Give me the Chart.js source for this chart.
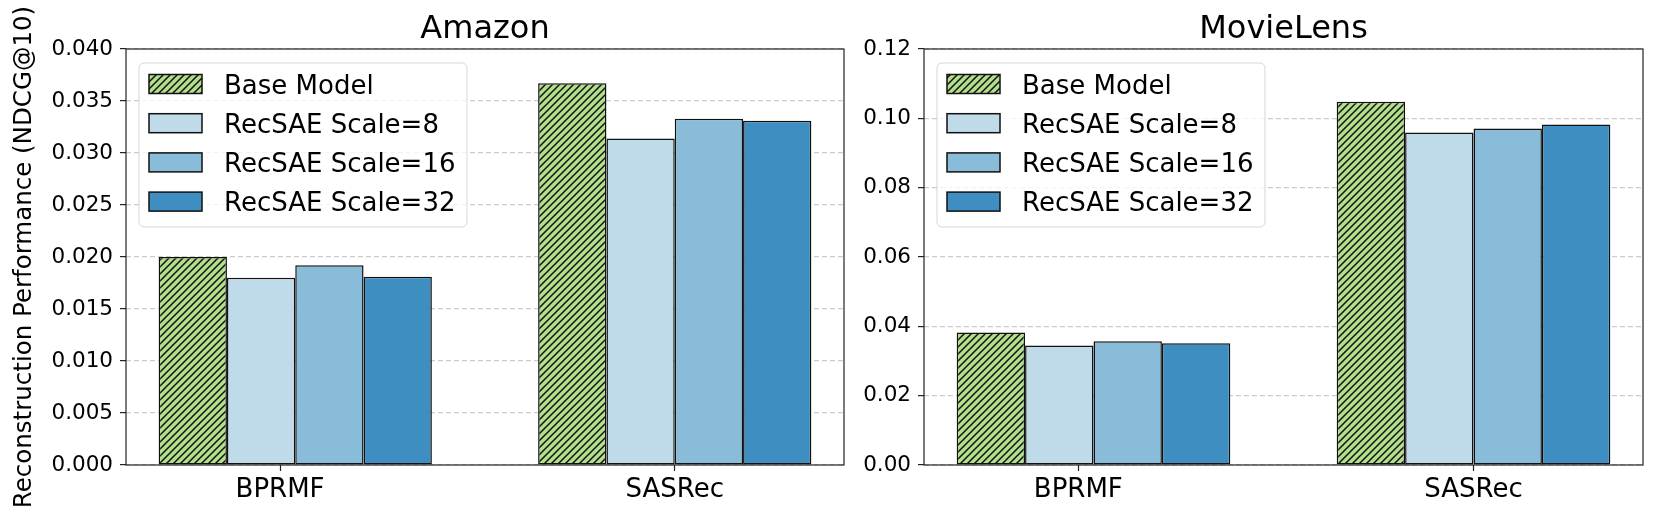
<!DOCTYPE html>
<html>
<head>
<meta charset="utf-8">
<script src="https://cdn.jsdelivr.net/npm/chart.js@4"></script>
<style>
  html, body { margin: 0; padding: 0; background: #fff; }
  #wrap { position: relative; width: 1661px; height: 517px; overflow: hidden; }
  canvas { position: absolute; top: 0; }
  #amazonChart { left: 0; }
  #movieChart { left: 850px; }
</style>
</head>
<body>
<div id="wrap">
  <canvas id="amazonChart" width="850" height="517"></canvas>
  <canvas id="movieChart" width="811" height="517"></canvas>
</div>
<script>
const groups = ['BPRMF', 'SASRec'];
// where the group labels sit on the x axis (BPRMF label is slightly left of its bars)
const groupTickPos = [-0.04, 1.0];
const seriesLabels = ['Base Model', 'RecSAE Scale=8', 'RecSAE Scale=16', 'RecSAE Scale=32'];

const amazonBase = [0.0200, 0.0367];
const amazonScale8 = [0.0180, 0.0314];
const amazonScale16 = [0.0192, 0.0333];
const amazonScale32 = [0.0181, 0.0331];

const movieBase = [0.0382, 0.1048];
const movieScale8 = [0.0345, 0.0959];
const movieScale16 = [0.0357, 0.0971];
const movieScale32 = [0.0351, 0.0982];

const amazonTicks = [0, 0.005, 0.010, 0.015, 0.020, 0.025, 0.030, 0.035, 0.040];
const movieTicks = [0, 0.02, 0.04, 0.06, 0.08, 0.10, 0.12];

const seriesColors = ['#b2df8a', '#bfdbea', '#89bcd9', '#3f8ec1'];

Chart.defaults.font.family = "'DejaVu Sans', sans-serif";
Chart.defaults.color = '#000';

// diagonal '///' hatch on a green fill
function hatchPattern(bg) {
  const s = 7;
  const c = document.createElement('canvas');
  c.width = s; c.height = s;
  const g = c.getContext('2d');
  g.fillStyle = bg;
  g.fillRect(0, 0, s, s);
  g.strokeStyle = '#111';
  g.lineWidth = 1.5;
  g.beginPath();
  g.moveTo(0, s); g.lineTo(s, 0);
  g.moveTo(-1, 1); g.lineTo(1, -1);
  g.moveTo(s - 1, s + 1); g.lineTo(s + 1, s - 1);
  g.stroke();
  return g.createPattern(c, 'repeat');
}

const framePlugin = {
  id: 'frame',
  afterDraw(chart) {
    const { ctx, chartArea: a } = chart;
    ctx.save();
    ctx.strokeStyle = '#222';
    ctx.lineWidth = 1.2;
    ctx.strokeRect(a.left, a.top, a.right - a.left, a.bottom - a.top);
    ctx.restore();
  }
};

// matplotlib-style legend box in the upper left of the plot
const legendBox = {
  id: 'legendBox',
  afterDraw(chart) {
    const { ctx, chartArea: a } = chart;
    const x0 = a.left + 13, y0 = a.top + 14, w = 328, h = 164, r = 5;
    ctx.save();
    ctx.beginPath();
    ctx.moveTo(x0 + r, y0);
    ctx.arcTo(x0 + w, y0, x0 + w, y0 + h, r);
    ctx.arcTo(x0 + w, y0 + h, x0, y0 + h, r);
    ctx.arcTo(x0, y0 + h, x0, y0, r);
    ctx.arcTo(x0, y0, x0 + w, y0, r);
    ctx.closePath();
    ctx.fillStyle = 'rgba(255,255,255,0.8)';
    ctx.fill();
    ctx.strokeStyle = 'rgba(204,204,204,0.8)';
    ctx.lineWidth = 1;
    ctx.stroke();

    ctx.font = "26px 'DejaVu Sans'";
    ctx.textBaseline = 'alphabetic';
    chart.data.datasets.forEach((ds, i) => {
      const cy = y0 + 21 + i * 39.2;
      ctx.fillStyle = ds.backgroundColor;
      ctx.fillRect(x0 + 10, cy - 9.5, 53, 19);
      ctx.strokeStyle = '#111';
      ctx.lineWidth = 1.5;
      ctx.strokeRect(x0 + 10, cy - 9.5, 53, 19);
      ctx.fillStyle = '#000';
      ctx.fillText(ds.label, x0 + 85, cy + 9.5);
    });
    ctx.restore();
  }
};

function makeChart(id, title, series, ticks, decimals, yTitle, yWidth, padRight) {
  const datasets = series.map((vals, i) => ({
    label: seriesLabels[i],
    data: vals.map((v, j) => ({ x: j, y: v })),
    backgroundColor: i === 0 ? hatchPattern(seriesColors[0]) : seriesColors[i],
    borderColor: '#111',
    borderWidth: 1.5,
    borderSkipped: false
  }));

  return new Chart(document.getElementById(id), {
    type: 'bar',
    data: { datasets },
    plugins: [framePlugin, legendBox],
    options: {
      responsive: false,
      animation: false,
      events: [],
      categoryPercentage: 0.72,
      barPercentage: 1.0,
      layout: { padding: { left: 0, right: padRight, top: 0, bottom: 0 } },
      plugins: {
        legend: { display: false },
        tooltip: { enabled: false },
        title: {
          display: true,
          text: title,
          color: '#000',
          fullSize: false,
          font: { size: 32, weight: 'normal' },
          padding: { top: 10, bottom: 0.6 }
        }
      },
      scales: {
        x: {
          type: 'linear',
          min: -0.446,
          max: 1.446,
          offset: false,
          afterBuildTicks: s => { s.ticks = groupTickPos.map(v => ({ value: v })); },
          afterFit: s => { s.height = 52; },
          ticks: {
            callback: (v, i) => groups[i],
            font: { size: 26 },
            padding: 4,
            maxRotation: 0,
            autoSkip: false
          },
          grid: { offset: false, drawOnChartArea: false, tickLength: 6, tickColor: '#222', tickWidth: 1.2 },
          border: { display: false }
        },
        y: {
          min: ticks[0],
          max: ticks[ticks.length - 1],
          z: 1,
          afterBuildTicks: s => { s.ticks = ticks.map(v => ({ value: v })); },
          afterFit: s => { s.width = yWidth; },
          ticks: {
            callback: v => v.toFixed(decimals),
            font: { size: 21.5 },
            padding: 7
          },
          grid: {
            color: 'rgba(170,170,170,0.6)',
            lineWidth: 1.2,
            tickLength: 6,
            tickColor: '#222',
            tickWidth: 1.2,
            tickBorderDash: []
          },
          border: { display: false, dash: [5, 3] },
          title: {
            display: !!yTitle,
            text: yTitle,
            color: '#000',
            font: { size: 24.5 },
            padding: { top: 10, bottom: 0 }
          }
        }
      }
    }
  });
}

makeChart('amazonChart', 'Amazon',
  [amazonBase, amazonScale8, amazonScale16, amazonScale32],
  amazonTicks, 3, 'Reconstruction Performance (NDCG@10)', 126, 6);

makeChart('movieChart', 'MovieLens',
  [movieBase, movieScale8, movieScale16, movieScale32],
  movieTicks, 2, '', 74, 18);
</script>
</body>
</html>
